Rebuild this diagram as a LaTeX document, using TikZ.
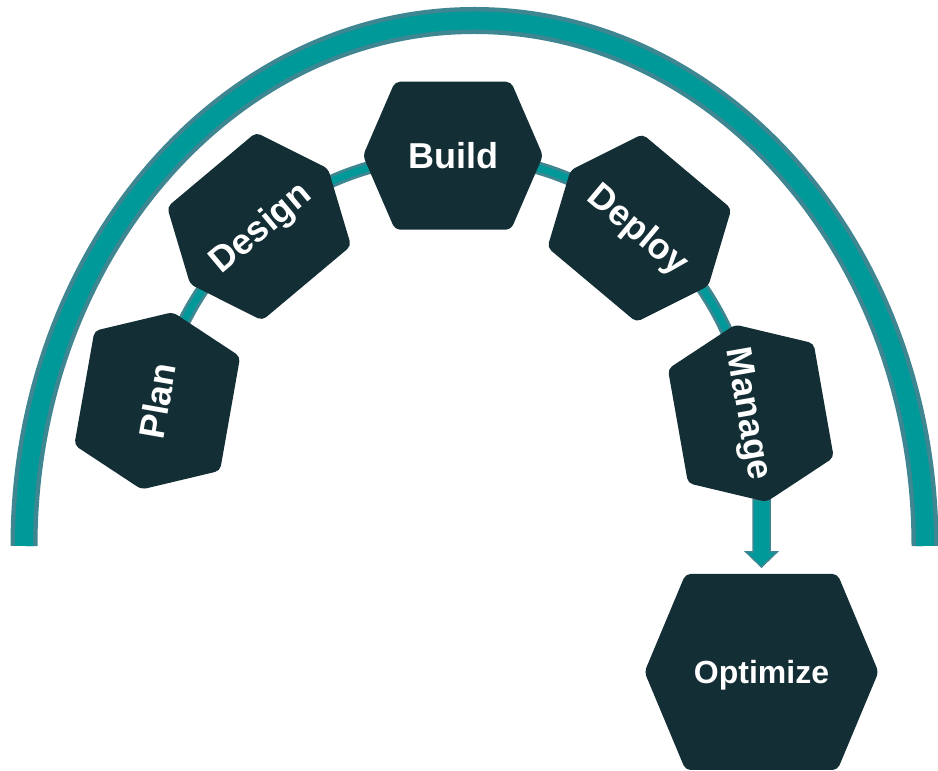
\documentclass[tikz,border=0pt]{standalone}
\usepackage{fontspec}
\setmainfont{Liberation Sans}
\usetikzlibrary{calc}
\definecolor{hexdark}{RGB}{19,46,53}
\definecolor{arcteal}{RGB}{0,153,153}
\definecolor{arcedge}{RGB}{62,134,145}
\tikzset{
  outerarc/.style={draw=arcedge,line width=4.5pt,double=arcteal,double distance=18pt},
  innerarc/.style={draw=arcedge,line width=3pt,double=arcteal,double distance=7pt},
  hexagon/.style={fill=hexdark,rounded corners=5pt},
  steplabel/.style={text=white,inner sep=0pt,text depth=0pt,text height=26pt,font=\bfseries\fontsize{36}{36}\selectfont},
  biglabel/.style={steplabel,text height=23pt,font=\bfseries\fontsize{32}{32}\selectfont},
  blockarrow/.style={fill=arcteal,draw=arcedge,line width=1.5pt}
}
\begin{document}
\begin{tikzpicture}[x=1pt,y=1pt]
\useasboundingbox (0,0) rectangle (938,771);
\coordinate (oc) at (474.5,225);
\coordinate (c) at (453,314.3);
\draw[outerarc] ($(oc)+(-450.5,0)$) arc[start angle=180,end angle=0,x radius=450.5,y radius=525.5];
\draw[innerarc] ($(c)+(169.3:301)$) arc[start angle=169.3,end angle=8.3,radius=301];
\coordinate (plan) at ($(c)+(169.3:301)$);
\coordinate (design) at ($(c)+(130.1:301)$);
\coordinate (build) at ($(c)+(90:301)$);
\coordinate (deploy) at ($(c)+(50.8:295)$);
\coordinate (manage) at ($(c)+(8.3:301)$);
\coordinate (optimize) at (761.5,99);
% arrow down to optimize
\coordinate (arrowstart) at ($(optimize)+(0,172)$);
\coordinate (arrowend) at ($(optimize)+(0,105)$);
\draw[blockarrow] ($(arrowstart)+(-8.5,0)$) -- ($(arrowend)+(-8.5,15)$) -- ($(arrowend)+(-15.5,15)$) -- (arrowend) -- ($(arrowend)+(15.5,15)$) -- ($(arrowend)+(8.5,15)$) -- ($(arrowstart)+(8.5,0)$) -- cycle;
\fill[hexagon,shift={(plan)},rotate=80] (-90,0) -- (-58,74) -- (58,74) -- (90,0) -- (58,-74) -- (-58,-74) -- cycle;
\fill[hexagon,shift={(design)},rotate=40] (-90,0) -- (-58,74) -- (58,74) -- (90,0) -- (58,-74) -- (-58,-74) -- cycle;
\fill[hexagon,shift={(build)}] (-90,0) -- (-58,74) -- (58,74) -- (90,0) -- (58,-74) -- (-58,-74) -- cycle;
\fill[hexagon,shift={(deploy)},rotate=-40] (-90,0) -- (-58,74) -- (58,74) -- (90,0) -- (58,-74) -- (-58,-74) -- cycle;
\fill[hexagon,shift={(manage)},rotate=-80] (-90,0) -- (-58,74) -- (58,74) -- (90,0) -- (58,-74) -- (-58,-74) -- cycle;
\fill[hexagon,shift={(optimize)}] (-117,0) -- (-76,98) -- (76,98) -- (117,0) -- (76,-98) -- (-76,-98) -- cycle;
\draw (plan) node[steplabel,rotate=80] (plantext) {Plan};
\draw (design) node[steplabel,rotate=40] (designtext) {Design};
\draw (build) node[steplabel] (buildtext) {Build};
\draw (deploy) node[steplabel,rotate=-40] (deploytext) {Deploy};
\draw (manage) node[steplabel,rotate=-80] (managetext) {Manage};
\draw (optimize) node[biglabel] (optimizetext) {Optimize};
\end{tikzpicture}
\end{document}
